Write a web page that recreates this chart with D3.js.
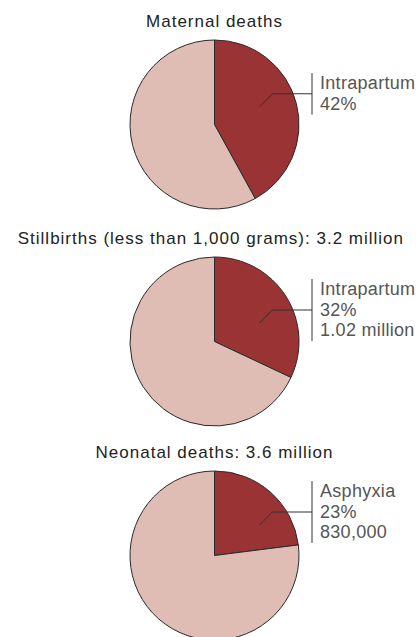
<!DOCTYPE html>
<html lang="en">
  <head>
    <meta charset="utf-8">
    <title>Intrapartum share of deaths</title>
    <script src="https://d3js.org/d3.v7.min.js"></script>
    <style>
      body { margin: 0; background: #fff; }
      text { font-family: "Liberation Sans", Arial, sans-serif; }
    </style>
  </head>
<body>

<script>
// chart data
var titles = ["Maternal deaths", "Stillbirths (less than 1,000 grams): 3.2 million", "Neonatal deaths: 3.6 million"];
var shares = [42, 32, 23];
var labels = [["Intrapartum", "42%"], ["Intrapartum", "32%", "1.02 million"], ["Asphyxia", "23%", "830,000"]];

var width = 419, height = 637;
var radius = 84.5;
var panelTop = [0, 217, 431];
var labelTop = [89, 78, 66];   // first label baseline inside each panel

var svg = d3.select("body")
    .append("svg")
    .attr("width", width)
    .attr("height", height);

var pie = d3.pie().sort(null).value(d => d);
var arc = d3.arc().innerRadius(0).outerRadius(radius);
var colors = ["#993334", "#dfbdb4"];

titles.forEach(function(title, i) {
    var g = svg.append("g").attr("transform", `translate(0,${panelTop[i]})`);
    var cx = 214.5, cy = 40 + radius;

    var t = g.append("text")
        .attr("x", cx)
        .attr("y", 27)
        .attr("text-anchor", "middle")
        .attr("font-size", "17px")
        .attr("letter-spacing", "1px")
        .attr("fill", "#222")
        .text(title);
    // keep long titles inside the page
    var bb = t.node().getBBox();
    if (bb.x + bb.width > width - 15) t.attr("x", cx - (bb.x + bb.width - (width - 15)));

    var slices = g.append("g").attr("transform", `translate(${cx},${cy})`);
    slices.selectAll("path")
        .data(pie([shares[i], 100 - shares[i]]))
        .join("path")
        .attr("d", arc)
        .attr("fill", (d, j) => colors[j])
        .attr("stroke", "#2a2a2a")
        .attr("stroke-width", 1);

    // label block with bracket and leader
    var lines = labels[i];
    var base0 = labelTop[i], step = 20.5;
    var barTop = base0 - 16, barBottom = base0 + step * (lines.length - 1) + 5;
    var midY = (barTop + barBottom) / 2;
    var barX = 312;

    g.append("line")
        .attr("x1", barX).attr("x2", barX)
        .attr("y1", barTop).attr("y2", barBottom)
        .attr("stroke", "#333").attr("stroke-width", 1);

    g.append("polyline")
        .attr("points", [[cx + 45, midY + 13], [cx + 58, midY], [barX, midY]].map(p => p.join(",")).join(" "))
        .attr("fill", "none")
        .attr("stroke", "#333").attr("stroke-width", 1);

    g.selectAll(".lbl")
        .data(lines)
        .join("text")
        .attr("class", "lbl")
        .attr("x", 320)
        .attr("y", (d, j) => base0 + j * step)
        .attr("font-size", "18px")
        .attr("letter-spacing", "0.3px")
        .attr("fill", "#555")
        .text(d => d);
});
</script>
</body>
</html>
